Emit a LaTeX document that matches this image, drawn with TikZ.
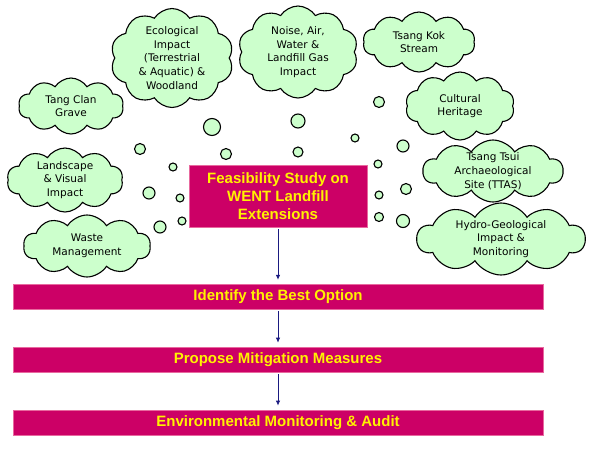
\documentclass[tikz,border=0pt]{standalone}
\usepackage{fontspec}
\setmainfont{Liberation Sans}
\newfontfamily\cloudfont{DejaVu Sans}
\usepackage{xcolor}
\usepackage{tikz}
\usetikzlibrary{shapes.symbols, arrows.meta, positioning}
\definecolor{barred}{HTML}{CC0066}
\definecolor{barline}{HTML}{E8699F}
\definecolor{puffgreen}{HTML}{CCFFCC}
\definecolor{arrblue}{HTML}{1A1A80}

\begin{document}
\begin{tikzpicture}[x=1pt, y=-1pt,
  node distance=37.5pt,
  bar/.style={rectangle, draw=barline, fill=barred, text=yellow, minimum width=530pt, minimum height=25pt, inner sep=0pt, font=\fontsize{15}{18}\selectfont\bfseries},
  topic/.style={cloud, cloud puffs=10, cloud puff arc=115, cloud ignores aspect, draw=black, line width=1.1pt, fill=puffgreen, inner sep=0pt},
  ctext/.style={font=\cloudfont\fontsize{10.5}{13.7}\selectfont, align=center, inner sep=0pt},
  bub/.style={circle, draw=black, line width=1.1pt, fill=puffgreen, inner sep=0pt},
  arr/.style={-{Latex[length=5pt, width=4.5pt]}, draw=arrblue, line width=0.8pt, shorten <=2pt, shorten >=4pt}
]
\useasboundingbox (0,0) rectangle (590,448);
% issue clouds
\node[topic, minimum width=123pt, minimum height=99pt, label={[ctext]center:Ecological\\Impact\\(Terrestrial\\\& Aquatic) \&\\Woodland}] (eco) at (172,58) {};
\node[topic, minimum width=120pt, minimum height=92pt, label={[ctext]center:Noise, Air,\\Water \&\\Landfill Gas\\Impact}] (noise) at (298,52) {};
\node[topic, minimum width=112pt, minimum height=60pt, label={[ctext]center:Tsang Kok\\Stream}] (kok) at (419,42) {};
\node[topic, minimum width=109pt, minimum height=68pt, label={[ctext]center:Cultural\\Heritage}] (cult) at (460,106) {};
\node[topic, minimum width=140pt, minimum height=62pt, label={[ctext]center:Tsang Tsui\\Archaeological\\Site (TTAS)}] (ttas) at (493,171) {};
\node[topic, minimum width=168pt, minimum height=72pt, label={[ctext]center:Hydro-Geological\\Impact \&\\Monitoring}] (hydro) at (501,239) {};
\node[topic, minimum width=105pt, minimum height=56pt, label={[ctext]center:Tang Clan\\Grave}] (clan) at (71,106) {};
\node[topic, minimum width=116pt, minimum height=64pt, label={[ctext]center:Landscape\\\& Visual\\Impact}] (land) at (65,180) {};
\node[topic, minimum width=127pt, minimum height=62pt, label={[ctext]center:Waste\\Management}] (waste) at (87,246) {};
% thought bubbles
\foreach \bx/\by/\br [count=\i] in {212/127/8.5, 140/149/5.5, 226/154/5.5, 298/121/7, 298/152/5, 379/102/5.5, 355/138/4, 403/146/6, 173/167/4, 149/193/6, 180/198/4, 160/227/6, 182/221/4, 378/164/4, 406/189/5.5, 379/195/4, 379/217/4.5, 403/221/6.5}
  \node[bub, minimum size=2*\br pt] (b\i) at (\bx,\by) {};
% steps
\node[bar, minimum width=178pt, minimum height=62pt, align=center] (feas) at (278,196) {Feasibility Study on\\WENT Landfill\\Extensions};
\node[bar] (best) at (278,296.5) {Identify the Best Option};
\node[bar, below=of best] (mitig) {Propose Mitigation Measures};
\node[bar, below=of mitig] (ema) {Environmental Monitoring \& Audit};
\draw[arr] (feas) -- (best);
\draw[arr] (best) -- (mitig);
\draw[arr] (mitig) -- (ema);
\end{tikzpicture}
\end{document}
